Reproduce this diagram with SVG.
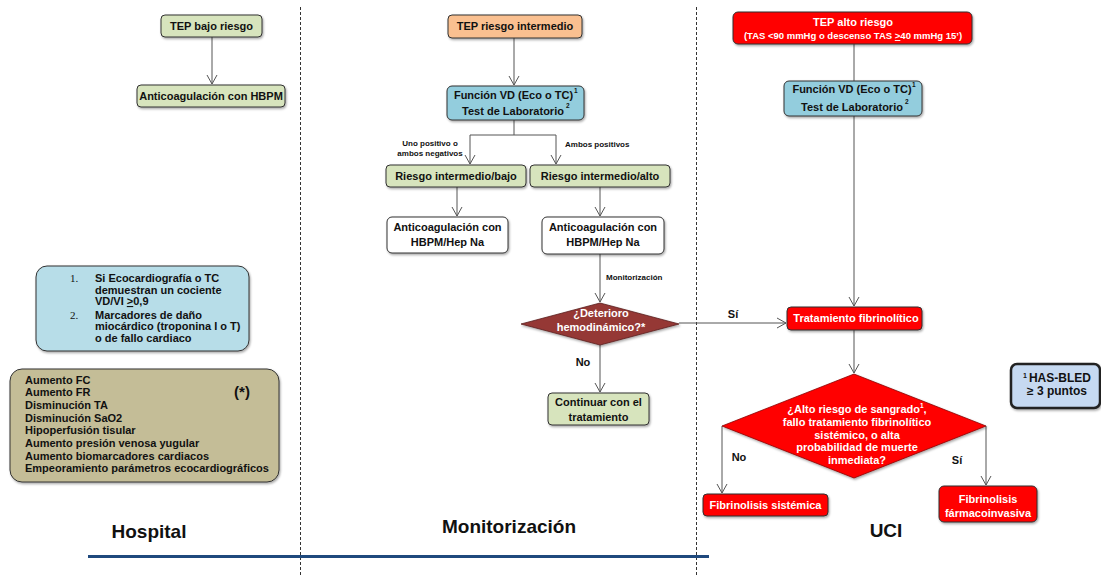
<svg xmlns="http://www.w3.org/2000/svg" width="1101" height="575" viewBox="0 0 1101 575">
  <defs>
    <style>
      text { font-family: "Liberation Sans", Arial, Helvetica, sans-serif; font-weight: bold; fill: #111; }
      .t { font-size: 11px; text-anchor: middle; }
      .t95 { font-size: 9.5px; }
      .w { fill: #ffffff; }
      .sm { font-size: 8px; }
      .sup { font-size: 6.5px; }
      .lane { font-size: 19px; text-anchor: middle; }
      .box { stroke: #333; stroke-width: 1; filter: url(#shadow); }
      .green { fill: #d7e4bd; }
      .orange { fill: #fac090; }
      .blue { fill: #93cddd; }
      .white { fill: #ffffff; }
      .red { fill: #ff0000; }
      .conn { stroke: #555; stroke-width: 1; fill: none; }
      .arrow { marker-end: url(#vhead); }
      .lanesep { stroke: #333; stroke-width: 1; stroke-dasharray: 3 2; }
      .num { font-family: "Liberation Serif", "Times New Roman", serif; font-weight: normal; font-size: 11px; }
      .note { font-size: 11px; }
    </style>
    <filter id="shadow" x="-10%" y="-20%" width="130%" height="150%">
      <feDropShadow dx="1" dy="1.5" stdDeviation="1" flood-color="#000" flood-opacity="0.35"/>
    </filter>
    <marker id="vhead" viewBox="-10 -6 11 12" refX="0" refY="0" markerWidth="11" markerHeight="12" markerUnits="userSpaceOnUse" orient="auto">
      <path d="M-9,-5 L0,0 L-9,5" fill="none" stroke="#555" stroke-width="1"/>
    </marker>
    <clipPath id="noteclip">
      <rect x="36" y="266" width="213" height="84" rx="11"/>
    </clipPath>
  </defs>

  <!-- lane separators and baseline -->
  <g id="lanes">
    <line class="lanesep" x1="300.5" y1="7" x2="300.5" y2="575"/>
    <line class="lanesep" x1="696.5" y1="7" x2="696.5" y2="575"/>
    <line x1="88" y1="556.5" x2="709" y2="556.5" stroke="#1f497d" stroke-width="3"/>
    <text class="lane" x="149" y="538">Hospital</text>
    <text class="lane" x="509" y="533">Monitorización</text>
    <text class="lane" x="886" y="537">UCI</text>
  </g>

  <!-- connectors -->
  <g id="connectors">
    <line class="conn arrow" x1="212" y1="37" x2="212" y2="84"/>
    <line class="conn arrow" x1="514" y1="38" x2="514" y2="85"/>
    <line class="conn" x1="514" y1="120" x2="514" y2="135"/>
    <line class="conn" x1="470" y1="135" x2="556" y2="135"/>
    <line class="conn arrow" x1="470" y1="135" x2="470" y2="164"/>
    <line class="conn arrow" x1="556" y1="135" x2="556" y2="164"/>
    <line class="conn arrow" x1="457" y1="187" x2="457" y2="216"/>
    <line class="conn arrow" x1="600" y1="187" x2="600" y2="216"/>
    <line class="conn arrow" x1="600" y1="254" x2="600" y2="302"/>
    <line class="conn arrow" x1="679" y1="323" x2="786" y2="323"/>
    <line class="conn arrow" x1="600" y1="345" x2="600" y2="392"/>
    <line class="conn" x1="854" y1="44" x2="854" y2="81"/>
    <line class="conn arrow" x1="854" y1="116" x2="854" y2="306"/>
    <line class="conn arrow" x1="854" y1="330" x2="854" y2="373"/>
    <polyline class="conn arrow" points="722,426 722,493"/>
    <polyline class="conn arrow" points="986,426 986,485"/>
    <text class="sm" x="430" y="146" text-anchor="middle">Uno positivo o</text>
    <text class="sm" x="430" y="156" text-anchor="middle">ambos negativos</text>
    <text class="sm" x="565" y="147">Ambos positivos</text>
    <text class="sm" x="606" y="280">Monitorización</text>
    <text class="t" x="733" y="318">Sí</text>
    <text class="t" x="583" y="366">No</text>
    <text class="t" x="739" y="461">No</text>
    <text class="t" x="957" y="464">Sí</text>
  </g>

  <!-- Hospital lane -->
  <g id="tep-bajo">
    <rect class="box green" x="161" y="15" width="101" height="22" rx="4"/>
    <text class="t" x="211.5" y="30">TEP bajo riesgo</text>
  </g>
  <g id="anticoag-hbpm">
    <rect class="box green" x="137" y="85" width="148" height="22" rx="4"/>
    <text class="t" x="211" y="100">Anticoagulación con HBPM</text>
  </g>
  <g id="nota-funcion">
    <rect class="box" x="36" y="266" width="213" height="85" rx="11" fill="#b7dde8"/>
    <g clip-path="url(#noteclip)">
      <text class="num" x="70" y="282">1.</text>
      <text class="note" x="95" y="282">Si Ecocardiografía o TC</text>
      <text class="note" x="95" y="294">demuestran un cociente</text>
      <text class="note" x="95" y="305">VD/VI <tspan text-decoration="underline">&gt;</tspan>0,9</text>
      <text class="num" x="70" y="319">2.</text>
      <text class="note" x="95" y="319">Marcadores de daño</text>
      <text class="note" x="95" y="330">miocárdico (troponina I o T)</text>
      <text class="note" x="95" y="342">o de fallo cardiaco</text>
    </g>
  </g>
  <g id="nota-deterioro">
    <rect class="box" x="10" y="369" width="269" height="113" rx="12" fill="#c4bd97"/>
    <text class="note" x="25" y="384">Aumento FC</text>
    <text class="note" x="25" y="396">Aumento FR</text>
    <text class="note" x="25" y="409">Disminución TA</text>
    <text class="note" x="25" y="422">Disminución SaO2</text>
    <text class="note" x="25" y="434">Hipoperfusión tisular</text>
    <text class="note" x="25" y="447">Aumento presión venosa yugular</text>
    <text class="note" x="25" y="460">Aumento biomarcadores cardiacos</text>
    <text class="note" x="25" y="472">Empeoramiento parámetros ecocardiográficos</text>
    <text x="242" y="397" font-size="15" text-anchor="middle">(*)</text>
  </g>

  <!-- Monitorización lane -->
  <g id="tep-intermedio">
    <rect class="box orange" x="448" y="15" width="134" height="23" rx="4"/>
    <text class="t" x="515" y="30">TEP riesgo intermedio</text>
  </g>
  <g id="funcion-vd-mon">
    <rect class="box blue" x="447" y="86" width="137" height="34" rx="5"/>
    <text class="t" x="513.5" y="99">Función VD (Eco o TC)</text>
    <text class="sup" x="574" y="93">1</text>
    <text class="t" x="513" y="115">Test de Laboratorio</text>
    <text class="sup" x="566" y="108">2</text>
  </g>
  <g id="riesgo-int-bajo">
    <rect class="box green" x="386" y="165" width="140" height="22" rx="4"/>
    <text class="t" x="456" y="180">Riesgo intermedio/bajo</text>
  </g>
  <g id="riesgo-int-alto">
    <rect class="box green" x="530" y="165" width="140" height="22" rx="4"/>
    <text class="t" x="600" y="180">Riesgo intermedio/alto</text>
  </g>
  <g id="anticoag-bajo">
    <rect class="box white" x="387" y="217" width="121" height="36" rx="5"/>
    <text class="t" x="447.5" y="231">Anticoagulación con</text>
    <text class="t" x="447.5" y="246">HBPM/Hep Na</text>
  </g>
  <g id="anticoag-alto">
    <rect class="box white" x="542" y="217" width="122" height="37" rx="5"/>
    <text class="t" x="603" y="231">Anticoagulación con</text>
    <text class="t" x="603" y="246">HBPM/Hep Na</text>
  </g>
  <g id="deterioro">
    <polygon points="600,303 679,324 600,345 521,324" fill="#953735" stroke="#5a1f1e" stroke-width="0.8" filter="url(#shadow)"/>
    <text class="t w" x="601" y="317">¿Deterioro</text>
    <text class="t w" x="601" y="331">hemodinámico?*</text>
  </g>
  <g id="continuar">
    <rect class="box green" x="548" y="393" width="101" height="32" rx="4"/>
    <text class="t" x="598.5" y="406">Continuar con el</text>
    <text class="t" x="598.5" y="421">tratamiento</text>
  </g>

  <!-- UCI lane -->
  <g id="tep-alto">
    <rect class="box red" x="733" y="12" width="239" height="32" rx="5"/>
    <text class="t w" x="853" y="26">TEP alto riesgo</text>
    <text class="t t95 w" x="853" y="39">(TAS &lt;90 mmHg o descenso TAS <tspan text-decoration="underline">&gt;</tspan>40 mmHg 15’)</text>
  </g>
  <g id="funcion-vd-uci">
    <rect class="box blue" x="784" y="81" width="138" height="35" rx="5"/>
    <text class="t" x="852" y="93">Función VD (Eco o TC)</text>
    <text class="sup" x="912" y="87">1</text>
    <text class="t" x="852" y="111">Test de Laboratorio</text>
    <text class="sup" x="905" y="104">2</text>
  </g>
  <g id="tratamiento-fibrinolitico">
    <rect class="box red" x="787" y="307" width="135" height="23" rx="4"/>
    <text class="t w" x="856" y="322">Tratamiento fibrinolítico</text>
  </g>
  <g id="alto-riesgo-sangrado">
    <polygon points="854,374 986,426 854,478 722,426" fill="#ff0000" stroke="#8a0000" stroke-width="0.8" filter="url(#shadow)"/>
    <text class="t w" x="857" y="413">¿Alto riesgo de sangrado<tspan font-size="6.5" dy="-5">1</tspan><tspan dy="5">,</tspan></text>
    <text class="t w" x="857" y="426">fallo tratamiento fibrinolítico</text>
    <text class="t w" x="857" y="439">sistémico, o alta</text>
    <text class="t w" x="857" y="451">probabilidad de muerte</text>
    <text class="t w" x="857" y="464">inmediata?</text>
  </g>
  <g id="fibrinolisis-sistemica">
    <rect class="box red" x="703" y="494" width="125" height="22" rx="4"/>
    <text class="t w" x="765.5" y="509">Fibrinolisis sistémica</text>
  </g>
  <g id="fibrinolisis-farmacoinvasiva">
    <rect class="box red" x="939" y="486" width="98" height="36" rx="5"/>
    <text class="t w" x="988" y="503">Fibrinolisis</text>
    <text class="t w" x="988" y="517">fármacoinvasiva</text>
  </g>
  <g id="has-bled">
    <rect x="1011" y="364" width="89" height="44" rx="6" fill="#c6d9f1" stroke="#222" stroke-width="2.5" filter="url(#shadow)"/>
    <text x="1057" y="382" font-size="12" text-anchor="middle"><tspan font-size="7" dy="-4">1 </tspan><tspan dy="4">HAS-BLED</tspan></text>
    <text x="1057" y="395" font-size="12" text-anchor="middle">≥ 3 puntos</text>
  </g>
</svg>
